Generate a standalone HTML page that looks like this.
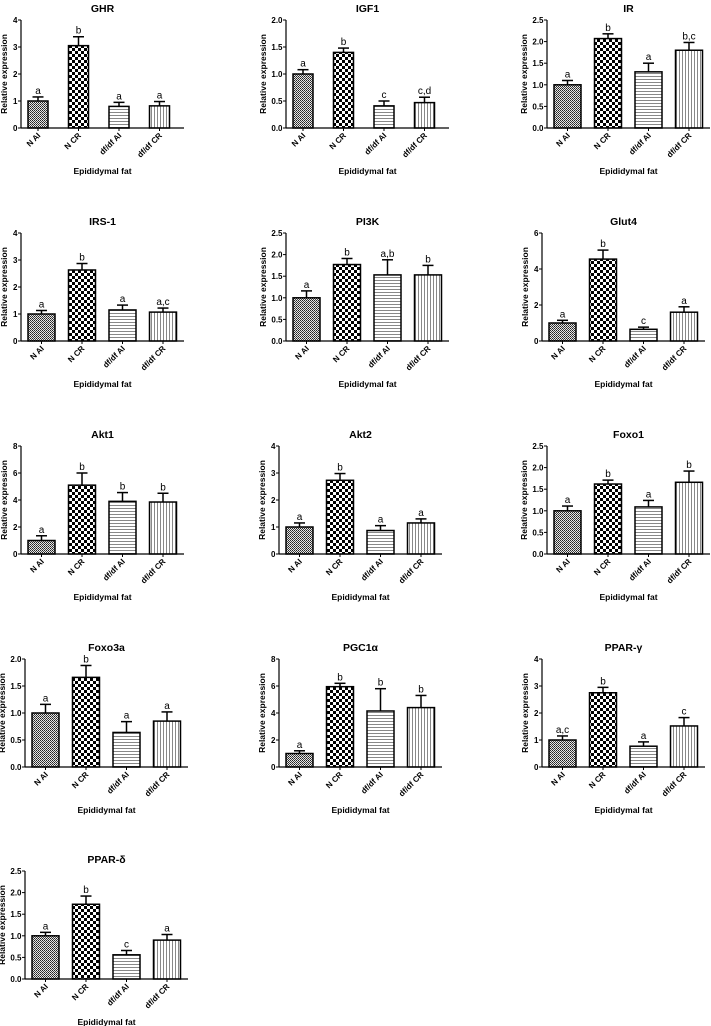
<!DOCTYPE html>
<html><head><meta charset="utf-8"><style>
html,body{margin:0;padding:0;background:#fff;}
svg{display:block;font-family:"Liberation Sans",Arial,sans-serif;}
</style></head><body>
<svg id="fig" width="711" height="1026" viewBox="0 0 711 1026" xmlns="http://www.w3.org/2000/svg">
<defs>
<pattern id="pat0" patternUnits="userSpaceOnUse" width="2" height="2"><rect width="2" height="2" fill="#e6e6e6"/><rect width="1" height="1" fill="#222"/><rect x="1" y="1" width="1" height="1" fill="#444"/></pattern>
<pattern id="pat1" patternUnits="userSpaceOnUse" width="6" height="6"><rect width="6" height="6" fill="#fff"/><rect width="3" height="3" fill="#000"/><rect x="3" y="3" width="3" height="3" fill="#000"/></pattern>
<pattern id="pat2" patternUnits="userSpaceOnUse" width="3" height="3"><rect width="3" height="3" fill="#fff"/><rect y="1" width="3" height="1" fill="#888"/></pattern>
<pattern id="pat3" patternUnits="userSpaceOnUse" width="3" height="3"><rect width="3" height="3" fill="#fff"/><rect x="1" width="1" height="3" fill="#888"/></pattern>
</defs>
</svg>
<script>
const categories = ["N AI", "N CR", "df/df AI", "df/df CR"];
const titles = ["GHR","IGF1","IR","IRS-1","PI3K","Glut4","Akt1","Akt2","Foxo1","Foxo3a","PGC1\u03b1","PPAR-\u03b3","PPAR-\u03b4"];
const yMaxes = [4, 2, 2.5, 4, 2.5, 6, 8, 4, 2.5, 2, 8, 4, 2.5];
const ySteps = [1, 0.5, 0.5, 1, 0.5, 2, 2, 1, 0.5, 0.5, 2, 1, 0.5];
const ghrMeans = [1.0, 3.05, 0.8, 0.82];     const ghrErr = [1.15, 3.38, 0.95, 0.98];   const ghrLetters = ["a","b","a","a"];
const igf1Means = [1.0, 1.4, 0.41, 0.47];    const igf1Err = [1.08, 1.48, 0.5, 0.57];   const igf1Letters = ["a","b","c","c,d"];
const irMeans = [1.0, 2.07, 1.3, 1.8];       const irErr = [1.1, 2.18, 1.5, 1.98];      const irLetters = ["a","b","a","b,c"];
const irs1Means = [1.0, 2.63, 1.15, 1.07];   const irs1Err = [1.13, 2.87, 1.33, 1.22];  const irs1Letters = ["a","b","a","a,c"];
const pi3kMeans = [1.0, 1.77, 1.53, 1.53];   const pi3kErr = [1.16, 1.91, 1.88, 1.75];  const pi3kLetters = ["a","b","a,b","b"];
const glut4Means = [1.0, 4.55, 0.65, 1.6];   const glut4Err = [1.15, 5.05, 0.77, 1.9];  const glut4Letters = ["a","b","c","a"];
const akt1Means = [1.0, 5.1, 3.9, 3.85];     const akt1Err = [1.35, 6.0, 4.55, 4.5];    const akt1Letters = ["a","b","b","b"];
const akt2Means = [1.0, 2.73, 0.87, 1.15];   const akt2Err = [1.15, 2.98, 1.05, 1.3];   const akt2Letters = ["a","b","a","a"];
const foxo1Means = [1.0, 1.62, 1.09, 1.66];  const foxo1Err = [1.11, 1.71, 1.24, 1.92]; const foxo1Letters = ["a","b","a","b"];
const foxo3aMeans = [1.0, 1.66, 0.64, 0.85]; const foxo3aErr = [1.16, 1.88, 0.84, 1.02];const foxo3aLetters = ["a","b","a","a"];
const pgcMeans = [1.0, 5.95, 4.15, 4.4];     const pgcErr = [1.2, 6.2, 5.8, 5.3];       const pgcLetters = ["a","b","b","b"];
const ppargMeans = [1.0, 2.75, 0.77, 1.52];  const ppargErr = [1.15, 2.95, 0.93, 1.83]; const ppargLetters = ["a,c","b","a","c"];
const ppardMeans = [1.0, 1.73, 0.56, 0.9];   const ppardErr = [1.08, 1.92, 0.66, 1.03]; const ppardLetters = ["a","b","c","a"];
const allMeans = [ghrMeans,igf1Means,irMeans,irs1Means,pi3kMeans,glut4Means,akt1Means,akt2Means,foxo1Means,foxo3aMeans,pgcMeans,ppargMeans,ppardMeans];
const allErr = [ghrErr,igf1Err,irErr,irs1Err,pi3kErr,glut4Err,akt1Err,akt2Err,foxo1Err,foxo3aErr,pgcErr,ppargErr,ppardErr];
const allLetters = [ghrLetters,igf1Letters,irLetters,irs1Letters,pi3kLetters,glut4Letters,akt1Letters,akt2Letters,foxo1Letters,foxo3aLetters,pgcLetters,ppargLetters,ppardLetters];

const NS = "http://www.w3.org/2000/svg";
const svg = document.getElementById("fig");
function mk(tag, attrs, parent, text){
  const e = document.createElementNS(NS, tag);
  for (const k in attrs) e.setAttribute(k, attrs[k]);
  if (text !== undefined) e.textContent = text;
  parent.appendChild(e);
  return e;
}
const rowTops = [20, 233, 446, 659, 871];
const colSingle = [21, 279, 542];
const colDecimal = [25, 286, 547];
const PH = 108, PW = 163;

titles.forEach((title, p) => {
  const row = Math.floor(p/3), col = p%3;
  const ymax = yMaxes[p], step = ySteps[p];
  const decimal = step < 1;
  let ax = decimal ? colDecimal[col] : colSingle[col];
  const top = rowTops[row], bottom = top + PH;
  const bw = (p <= 1) ? 20 : 27;
  const y = v => bottom - v / ymax * PH;
  const xc = i => ax + 7 + bw/2 + i*40.5;
  const g = mk("g", {}, svg);
  
  
  const t = mk("text", {x: ax + PW/2, y: top - 8, "text-anchor":"middle", "font-size":"10.5", "font-weight":"bold"}, g, title);
  
  
  const yl = mk("text", {transform:`translate(${ax - (decimal?20:14)},${top+PH/2}) rotate(-90)`, "text-anchor":"middle", "font-size":"8.5", "font-weight":"bold"}, g, "Relative expression");
  
  
  const xl = mk("text", {x: ax + PW/2, y: bottom + 46, "text-anchor":"middle", "font-size":"8.5", "font-weight":"bold"}, g, "Epididymal fat");
  
  
  const n = Math.round(ymax/step);
  for (let k = 0; k <= n; k++){
    const v = k*step, yy = y(v);
    mk("line", {x1: ax-3, x2: ax, y1: yy, y2: yy, stroke:"#000", "stroke-width":"1"}, g);
    const tl = mk("text", {x: ax-3.5, y: yy+3, "text-anchor":"end", "font-size":"8", "font-weight":"bold"}, g, decimal ? v.toFixed(1) : String(v));
    
    
  }
  allMeans[p].forEach((m, i) => {
    const cx = xc(i);
    const b = mk("rect", {x: cx - bw/2, y: y(m), width: bw, height: bottom - y(m), fill:`url(#pat${i})`, stroke:"#000", "stroke-width":"1.5"}, g);
    
    
    const e = allErr[p][i];
    mk("line", {x1: cx, x2: cx, y1: y(m), y2: y(e), stroke:"#000", "stroke-width":"1.5"}, g);
    mk("line", {x1: cx-5.5, x2: cx+5.5, y1: y(e), y2: y(e), stroke:"#000", "stroke-width":"1.5"}, g);
    const lt = mk("text", {x: cx, y: y(e) - 3, "text-anchor":"middle", "font-size":"10"}, g, allLetters[p][i]);
    
    
    mk("line", {x1: cx, x2: cx, y1: bottom, y2: bottom+3, stroke:"#000", "stroke-width":"1"}, g);
    const cl = mk("text", {transform:`translate(${cx+3},${bottom+8}) rotate(-45)`, "text-anchor":"end", "font-size":"8", "font-weight":"bold"}, g, categories[i]);
    
    
  });
  mk("line", {x1: ax, x2: ax, y1: top, y2: bottom, stroke:"#000", "stroke-width":"1.2"}, g);
  mk("line", {x1: ax, x2: ax+PW, y1: bottom, y2: bottom, stroke:"#000", "stroke-width":"1.2"}, g);
});
</script>
</body></html>
